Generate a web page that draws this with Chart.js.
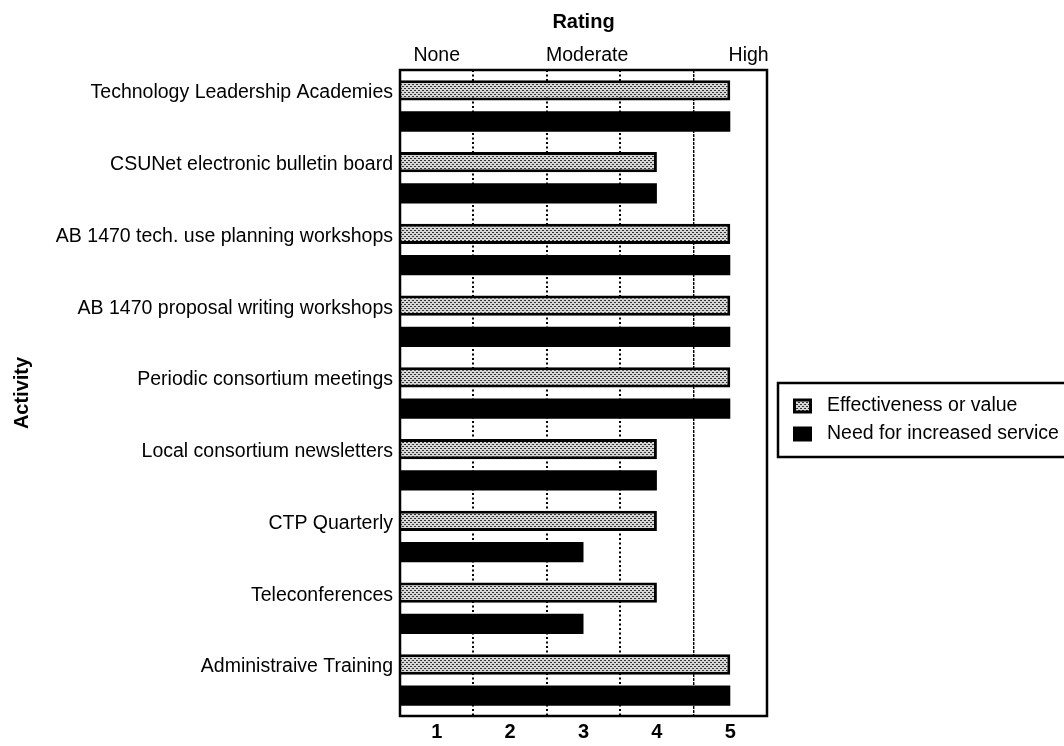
<!DOCTYPE html>
<html>
<head>
<meta charset="utf-8">
<script src="https://cdn.jsdelivr.net/npm/chart.js@4.4.1/dist/chart.umd.min.js"></script>
<style>
  html, body { margin: 0; padding: 0; background: #fff; }
  canvas { display: block; }
</style>
</head>
<body>
<canvas id="chart" width="1064" height="746"></canvas>
<script>
// Activities of the consortium, top to bottom
const activities = [
  'Technology Leadership Academies',
  'CSUNet electronic bulletin board',
  'AB 1470 tech. use planning workshops',
  'AB 1470 proposal writing workshops',
  'Periodic consortium meetings',
  'Local consortium newsletters',
  'CTP Quarterly',
  'Teleconferences',
  'Administraive Training'
];

// Ratings on the 1-5 scale
const effectiveness   = [5, 4, 5, 5, 5, 4, 4, 4, 5];
const needForService  = [5, 4, 5, 5, 5, 4, 3, 3, 5];
const seriesNames     = ['Effectiveness or value', 'Need for increased service'];

// Axis ticks
const ratingTicks   = [1, 2, 3, 4, 5];
const ratingWords   = ['None', 'Moderate', 'High'];
const ratingWordsAt = [1.0, 3.05, 5.25];

const FONT = "'Liberation Sans', Arial, Helvetica, sans-serif";
Chart.defaults.color = '#000';
Chart.defaults.font.family = FONT;

const canvas = document.getElementById('chart');
const ctx2d = canvas.getContext('2d');

// Fine dotted screen used for the effectiveness bars
function stipplePattern() {
  const tile = document.createElement('canvas');
  tile.width = 4; tile.height = 4;
  const g = tile.getContext('2d');
  g.fillStyle = '#d6d6d6';
  g.fillRect(0, 0, 4, 4);
  g.fillStyle = '#333333';
  g.fillRect(0, 0, 2, 1);
  g.fillRect(2, 2, 2, 1);
  return ctx2d.createPattern(tile, 'repeat');
}
const stipple = stipplePattern();

// Black frame around the plotting area
const plotFrame = {
  id: 'plotFrame',
  afterDatasetsDraw(chart) {
    const { ctx, chartArea: a } = chart;
    ctx.save();
    ctx.strokeStyle = '#000';
    ctx.lineWidth = 2.5;
    ctx.strokeRect(a.left, a.top, a.right - a.left, a.bottom - a.top);
    ctx.restore();
  }
};

// Boxed legend to the right of the plot
const boxedLegend = {
  id: 'boxedLegend',
  afterDraw(chart) {
    const { ctx } = chart;
    const left = chart.chartArea.right + 11;
    const top = 383, height = 74;
    ctx.save();
    ctx.strokeStyle = '#000';
    ctx.lineWidth = 2.5;
    ctx.strokeRect(left, top, 320, height);
    const rows = [406, 434];
    chart.data.datasets.forEach((ds, i) => {
      const cy = rows[i];
      const sx = left + 15, sw = 19, sh = 15;
      ctx.fillStyle = '#000';
      ctx.fillRect(sx, cy - sh / 2, sw, sh);
      if (ds.borderWidth) {
        ctx.fillStyle = ds.backgroundColor;
        ctx.fillRect(sx + 3, cy - sh / 2 + 3, sw - 6, sh - 6);
      }
      ctx.fillStyle = '#000';
      ctx.font = '19.5px ' + FONT;
      ctx.textBaseline = 'middle';
      ctx.textAlign = 'left';
      ctx.fillText(ds.label, left + 49, cy);
    });
    ctx.restore();
  }
};

new Chart(canvas, {
  type: 'bar',
  data: {
    labels: activities,
    datasets: [
      {
        label: seriesNames[0],
        data: effectiveness,
        backgroundColor: stipple,
        borderColor: '#000',
        borderWidth: 3,
        borderSkipped: 'start',
        categoryPercentage: 0.87,
        barPercentage: 0.65
      },
      {
        label: seriesNames[1],
        data: needForService,
        backgroundColor: '#000',
        borderWidth: 0,
        categoryPercentage: 0.87,
        barPercentage: 0.65
      }
    ]
  },
  options: {
    indexAxis: 'y',
    responsive: false,
    animation: false,
    devicePixelRatio: 1,
    layout: { padding: { left: 0, right: 297, top: 0, bottom: 0 } },
    plugins: {
      legend: { display: false },
      tooltip: { enabled: false }
    },
    scales: {
      x: {
        type: 'linear',
        position: 'bottom',
        min: 0.5,
        max: 5.5,
        afterBuildTicks: s => { s.ticks = ratingTicks.map(v => ({ value: v })); },
        afterFit: s => { s.height = 30; },
        ticks: {
          autoSkip: false,
          padding: 4,
          font: { size: 20, weight: 'bold' },
          callback: v => String(v)
        },
        grid: {
          offset: true,
          drawTicks: false,
          color: '#000',
          lineWidth: c => (c.index === 4 ? 1.4 : 2)
        },
        border: {
          display: false,
          dash: c => (c.index === 4 ? [3, 1] : [2, 2.5])
        }
      },
      xTop: {
        type: 'linear',
        position: 'top',
        min: 0.5,
        max: 5.5,
        afterBuildTicks: s => { s.ticks = ratingWordsAt.map(v => ({ value: v })); },
        afterFit: s => { s.height = 70; },
        ticks: {
          autoSkip: false,
          padding: 3,
          font: { size: 19.5 },
          callback: (v, i) => ratingWords[i]
        },
        grid: { display: false, drawTicks: false },
        border: { display: false },
        title: {
          display: true,
          text: 'Rating',
          font: { size: 20, weight: 'bold' },
          padding: { top: 10, bottom: 0 }
        }
      },
      y: {
        position: 'left',
        afterFit: s => { s.width = 400; },
        ticks: {
          padding: 7,
          labelOffset: -13,
          font: { size: 19.5 },
          autoSkip: false
        },
        grid: { display: false, drawTicks: false },
        border: { display: false },
        title: {
          display: true,
          text: 'Activity',
          font: { size: 20, weight: 'bold' },
          padding: { top: 10, bottom: 0 }
        }
      }
    }
  },
  plugins: [plotFrame, boxedLegend]
});
</script>
</body>
</html>
